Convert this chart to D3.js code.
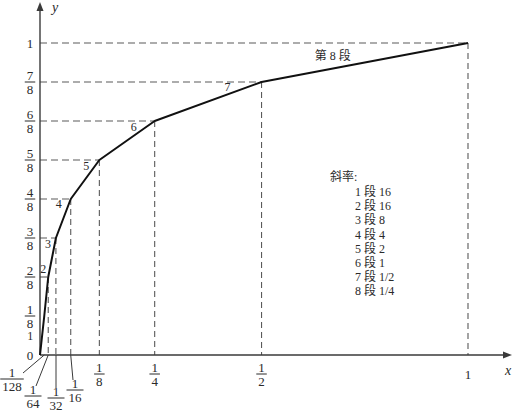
<!DOCTYPE html>
<html><head><meta charset="utf-8">
<script src="https://cdn.jsdelivr.net/npm/d3@7"></script>
<style>
html,body{margin:0;padding:0;background:#fff;}
svg{display:block;}
text{font-family:"Liberation Serif","Noto Sans CJK SC",serif;fill:#2a2a2a;}
</style></head>
<body>
<svg id="chart" width="515" height="415"></svg>
<script>
// ---- data ----
const xVals = [0, 1/128, 1/64, 1/32, 1/16, 1/8, 1/4, 1/2, 1];
const yVals = [0, 1/8, 2/8, 3/8, 4/8, 5/8, 6/8, 7/8, 1];
const xTickLabels = ["", "1/128", "1/64", "1/32", "1/16", "1/8", "1/4", "1/2", "1"];
const yTickLabels = ["0", "1/8", "2/8", "3/8", "4/8", "5/8", "6/8", "7/8", "1"];
const segNames = ["1", "2", "3", "4", "5", "6", "7", "第 8 段"];
const legendTitle = "斜率:";
const legendSegs = ["1", "2", "3", "4", "5", "6", "7", "8"];
const legendSlopes = ["16", "16", "8", "4", "2", "1", "1/2", "1/4"];

// ---- drawing ----
const svg = d3.select("#chart");
const x = d3.scalePow().exponent(0.95).domain([0, 1]).range([40, 468]);
const y = d3.scaleLinear().domain([0, 1]).range([355, 43]);
const axisColor = "#3a3a3a";
const dashColor = "#5a5a5a";
const pts = xVals.map((v, i) => [v, yVals[i]]);

// dashed guides
const guides = svg.append("g");
pts.forEach((p, i) => {
  if (i < 2) return;
  guides.append("line").attr("x1", x(0)).attr("x2", x(p[0])).attr("y1", y(p[1])).attr("y2", y(p[1]))
    .attr("stroke", dashColor).attr("stroke-width", 1.1).attr("stroke-dasharray", "7,4");
  guides.append("line").attr("x1", x(p[0])).attr("x2", x(p[0])).attr("y1", y(p[1])).attr("y2", y(0))
    .attr("stroke", dashColor).attr("stroke-width", 1.1).attr("stroke-dasharray", "6,4");
});

// axes
const axX = d3.axisBottom(x).tickValues([]).tickSize(0).tickSizeOuter(0);
const axY = d3.axisLeft(y).tickValues([]).tickSize(0).tickSizeOuter(0);
const gx = svg.append("g").attr("transform", `translate(0,${y(0)})`).call(axX);
gx.select(".domain").attr("d", `M${x(0)},0H505`).attr("stroke", axisColor).attr("stroke-width", 1.4);
const gy = svg.append("g").attr("transform", `translate(${x(0)},0)`).call(axY);
gy.select(".domain").attr("d", `M0,${y(0)}V8`).attr("stroke", axisColor).attr("stroke-width", 1.4);
// arrows
svg.append("path").attr("d", `M512,${y(0)} L503,${y(0)-3.5} L503,${y(0)+3.5} Z`).attr("fill", axisColor);
svg.append("path").attr("d", `M${x(0)},2 L${x(0)-3.5},11 L${x(0)+3.5},11 Z`).attr("fill", axisColor);
svg.append("text").attr("x", 52).attr("y", 12).attr("font-style", "italic").attr("font-size", 14).text("y");
svg.append("text").attr("x", 505).attr("y", 375).attr("font-style", "italic").attr("font-size", 14).text("x");

// curve
const line = d3.line().x(d => x(d[0])).y(d => y(d[1]));
svg.append("path").datum(pts).attr("d", line).attr("fill", "none")
  .attr("stroke", "#111").attr("stroke-width", 2).attr("stroke-linejoin", "round");

// fraction helper
function frac(g, cx, cy, label, fs) {
  fs = fs || 13;
  const parts = label.split("/");
  if (parts.length === 1) {
    g.append("text").attr("x", cx).attr("y", cy + fs * 0.35).attr("text-anchor", "middle")
      .attr("font-size", fs).text(label);
    return;
  }
  const w = Math.max(parts[0].length, parts[1].length) * fs * 0.5 + 4;
  g.append("text").attr("x", cx).attr("y", cy - 2.5).attr("text-anchor", "middle").attr("font-size", fs).text(parts[0]);
  g.append("line").attr("x1", cx - w / 2).attr("x2", cx + w / 2).attr("y1", cy).attr("y2", cy)
    .attr("stroke", "#2a2a2a").attr("stroke-width", 1);
  g.append("text").attr("x", cx).attr("y", cy + 11.5).attr("text-anchor", "middle").attr("font-size", fs).text(parts[1]);
}

// y tick labels
const yl = svg.append("g");
yVals.forEach((v, i) => frac(yl, 30, y(v), yTickLabels[i]));

// x tick labels (small ones with leader lines)
const xl = svg.append("g");
const leaders = {
  1: {lx: 12, ly: 379, ex: 23, ey: 373},
  2: {lx: 33, ly: 396, ex: 36, ey: 386},
  3: {lx: 56, ly: 398, ex: 56, ey: 388},
  4: {lx: 75, ly: 390, ex: 73, ey: 380}
};
xVals.forEach((v, i) => {
  if (!xTickLabels[i]) return;
  const L = leaders[i];
  if (L) {
    const tx = i === 3 ? L.ex : x(v);
    xl.append("line").attr("x1", tx).attr("y1", y(0)).attr("x2", L.ex).attr("y2", L.ey)
      .attr("stroke", "#3a3a3a").attr("stroke-width", 1);
    frac(xl, L.lx, L.ly, xTickLabels[i]);
  } else {
    frac(xl, x(v), y(0) + 19, xTickLabels[i]);
  }
});

// segment labels
const segOff = [[-14, 20], [-5, -8], [-8, 6], [-12, 5], [-13, 6], [-21, 6], [-34, 5]];
const sl = svg.append("g");
segNames.forEach((s, i) => {
  let cx, cy;
  if (i < 7) {
    cx = x(xVals[i + 1]) + segOff[i][0];
    cy = y(yVals[i + 1]) + segOff[i][1];
  } else {
    cx = (x(xVals[i]) + x(xVals[i + 1])) / 2 - 32;
    cy = (y(yVals[i]) + y(yVals[i + 1])) / 2 - 7;
  }
  sl.append("text").attr("x", cx).attr("y", cy).attr("dy", "0.35em").attr("text-anchor", "middle")
    .attr("font-size", 12).text(s);
});

// slope legend
const lg = svg.append("g");
lg.append("text").attr("x", 330).attr("y", 181).attr("font-size", 12).text(legendTitle);
legendSegs.forEach((s, i) => {
  lg.append("text").attr("x", 355).attr("y", 196 + i * 14.2).attr("font-size", 12)
    .text(`${s} 段 ${legendSlopes[i]}`);
});
</script>
</body></html>
